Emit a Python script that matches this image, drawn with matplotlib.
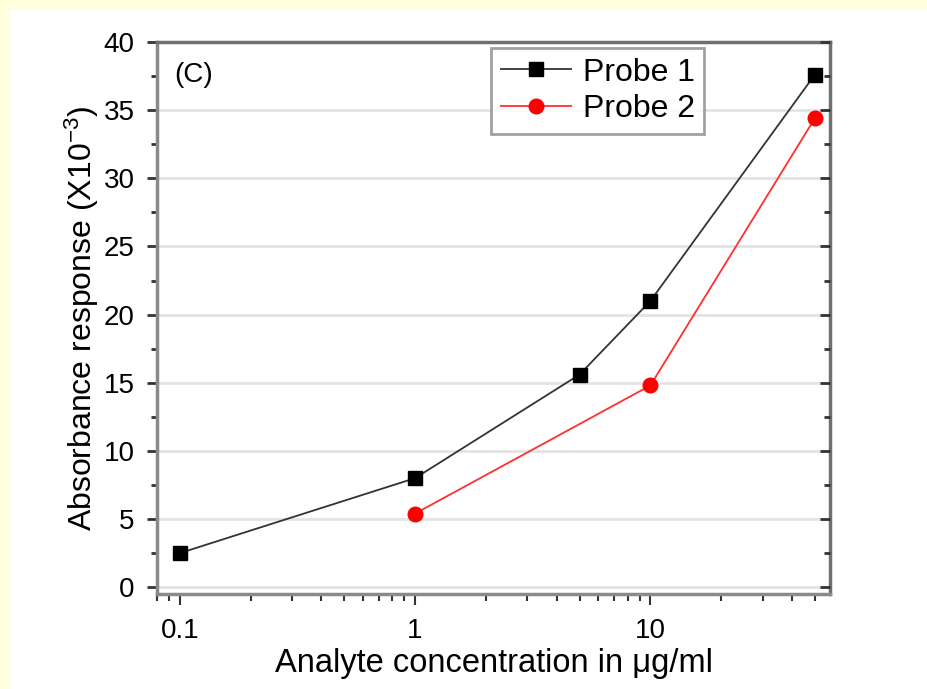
import matplotlib
matplotlib.use("Agg")
import matplotlib.pyplot as plt
from matplotlib.patches import Rectangle
from matplotlib.ticker import LogLocator, FixedLocator, NullFormatter

plt.rcParams['font.family'] = ['Liberation Sans', 'DejaVu Sans']
plt.rcParams['mathtext.fontset'] = 'custom'
plt.rcParams['mathtext.rm'] = 'Liberation Sans'
plt.rcParams['mathtext.it'] = 'Liberation Sans'

conc1 = [0.1, 1, 5, 10, 50]
probe1 = [2.5, 8.0, 15.6, 21.0, 37.6]
conc2 = [1, 10, 50]
probe2 = [5.4, 14.8, 34.4]
xticks = [0.1, 1, 10]
xticklabels = ["0.1", "1", "10"]
yticks = [0, 5, 10, 15, 20, 25, 30, 35, 40]

W, H = 928, 689
fig = plt.figure(figsize=(W/100, H/100), dpi=100, facecolor='#FFFFDC')
fig.patches.append(Rectangle((10/W, 0), 1, 1 - 10/H, transform=fig.transFigure,
                             facecolor='white', edgecolor='none', zorder=-10))

ax = fig.add_axes([157/W, 1 - 594/H, (830-157)/W, (594-42)/H])
ax.set_xscale('log')
ax.set_xlim(0.08, 58)
ax.set_ylim(-0.5, 40)

for y in yticks:
    ax.axhline(y, color='#e3e3e3', lw=2, zorder=0)

ax.plot(conc1, probe1, color='#333333', lw=1.3, marker='s', ms=10,
        mfc='black', mec='black', label='Probe 1', zorder=3)
ax.plot(conc2, probe2, color='#ff3030', lw=1.3, marker='o', ms=10.5,
        mfc='red', mec='red', label='Probe 2', zorder=3)

for s in ax.spines.values():
    s.set_color('#8a8a8a')
    s.set_linewidth(2.5)
ax.spines['top'].set_color('#707070')
ax.spines['right'].set_color('#707070')

ax.set_yticks(yticks)
ax.yaxis.set_minor_locator(FixedLocator([2.5 + 5*i for i in range(8)]))
ax.set_xticks(xticks)
ax.set_xticklabels(xticklabels)
ax.xaxis.set_minor_locator(LogLocator(base=10, subs=range(2, 10), numticks=20))
ax.xaxis.set_minor_formatter(NullFormatter())

ax.tick_params(axis='y', which='both', direction='out', left=True, right=False,
               labelsize=20, color='#333333', width=2)
ax.tick_params(axis='y', which='major', length=7, pad=9)
ax.tick_params(axis='y', which='minor', length=4)
ax.tick_params(axis='x', which='both', direction='out', bottom=True, top=False,
               labelsize=20, color='#333333', width=1.5)
ax.tick_params(axis='x', which='major', length=8, pad=9)
ax.tick_params(axis='x', which='minor', length=5)

# right-side inward ticks
axr = ax.twinx()
axr.set_ylim(ax.get_ylim())
axr.set_yticks(yticks)
axr.yaxis.set_minor_locator(FixedLocator([2.5 + 5*i for i in range(8)]))
axr.set_yticklabels([])
axr.tick_params(axis='y', which='both', direction='in', color='#333333', width=2)
axr.tick_params(axis='y', which='major', length=7)
axr.tick_params(axis='y', which='minor', length=4)
for s in axr.spines.values():
    s.set_visible(False)

ax.set_xlabel('Analyte concentration in μg/ml', fontsize=23.5, labelpad=3)
ax.set_ylabel('Absorbance response (X10$^{-3}$)', fontsize=23, labelpad=2)

ax.text(0.025, 0.94, '(C)', transform=ax.transAxes, fontsize=20, va='center', ha='left')

leg = ax.legend(loc='upper left', bbox_to_anchor=(0.497, 0.989), fontsize=23,
                frameon=True, fancybox=False, handlelength=2.2, handletextpad=0.35,
                borderpad=0.3, borderaxespad=0, labelspacing=0.2)
leg.get_frame().set_edgecolor('#8a8a8a')
leg.get_frame().set_linewidth(2)

fig.savefig('out.png', dpi=100, facecolor=fig.get_facecolor())
